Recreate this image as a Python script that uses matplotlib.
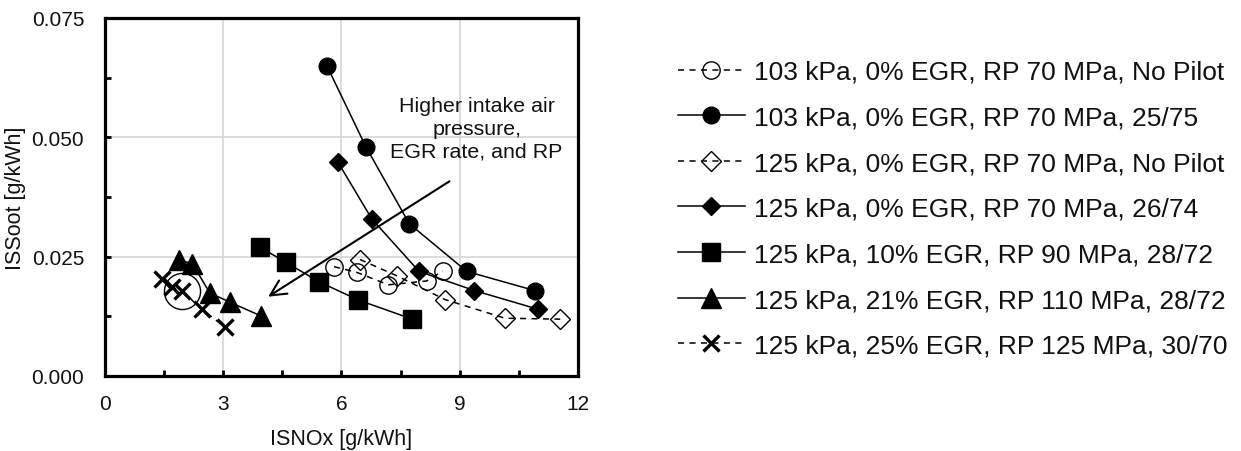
import matplotlib.pyplot as plt
from matplotlib.ticker import MultipleLocator

plt.rcParams["font.family"] = ["Liberation Sans", "DejaVu Sans"]

LABELS = [
    "103 kPa, 0% EGR, RP 70 MPa, No Pilot",
    "103 kPa, 0% EGR, RP 70 MPa, 25/75",
    "125 kPa, 0% EGR, RP 70 MPa, No Pilot",
    "125 kPa, 0% EGR, RP 70 MPa, 26/74",
    "125 kPa, 10% EGR, RP 90 MPa, 28/72",
    "125 kPa, 21% EGR, RP 110 MPa, 28/72",
    "125 kPa, 25% EGR, RP 125 MPa, 30/70",
]

NOX_103_NOPILOT = [5.81, 6.39, 7.19, 8.16, 8.57]
SOOT_103_NOPILOT = [0.0229, 0.0217, 0.0191, 0.0199, 0.0220]

NOX_103_2575 = [5.63, 6.62, 7.72, 9.18, 10.90]
SOOT_103_2575 = [0.0650, 0.0480, 0.0319, 0.0219, 0.0179]

NOX_125_NOPILOT = [6.47, 7.40, 8.63, 10.15, 11.55]
SOOT_125_NOPILOT = [0.0244, 0.0210, 0.0160, 0.0121, 0.0119]

NOX_125_2674 = [5.91, 6.77, 7.97, 9.37, 10.98]
SOOT_125_2674 = [0.0448, 0.0329, 0.0219, 0.0179, 0.0140]

NOX_EGR10 = [3.93, 4.59, 5.44, 6.43, 7.80]
SOOT_EGR10 = [0.0270, 0.0238, 0.0197, 0.0159, 0.0119]

NOX_EGR21 = [1.89, 2.22, 2.66, 3.16, 3.95]
SOOT_EGR21 = [0.0243, 0.0235, 0.0174, 0.0155, 0.0126]

NOX_EGR25 = [1.44, 1.69, 1.95, 2.45, 3.05]
SOOT_EGR25 = [0.0203, 0.0186, 0.0179, 0.0140, 0.0102]

HIGHLIGHT = (1.95, 0.0179)
ARROW_FROM = (8.80, 0.0411)
ARROW_TO = (4.08, 0.0163)
ARROW_TEXT = "Higher intake air\npressure,\nEGR rate, and RP"

DASH = (0, (4, 3.5))

STYLES = [
    dict(ls=DASH, marker="o", ms=12.5, mfc="none", mew=1.0),
    dict(ls="-", marker="o", ms=12, mfc="black", mew=1.0),
    dict(ls=DASH, marker="D", ms=10.5, mfc="none", mew=1.0),
    dict(ls="-", marker="D", ms=9.5, mfc="black", mew=1.0),
    dict(ls="-", marker="s", ms=12.5, mfc="black", mew=1.0),
    dict(ls="-", marker="^", ms=14, mfc="black", mew=1.0),
    dict(ls=DASH, marker="x", ms=12, mfc="black", mew=2.4),
]

SERIES = [
    (NOX_103_NOPILOT, SOOT_103_NOPILOT),
    (NOX_103_2575, SOOT_103_2575),
    (NOX_125_NOPILOT, SOOT_125_NOPILOT),
    (NOX_125_2674, SOOT_125_2674),
    (NOX_EGR10, SOOT_EGR10),
    (NOX_EGR21, SOOT_EGR21),
    (NOX_EGR25, SOOT_EGR25),
]

TEXT_COLOR = "#111111"

fig = plt.figure(figsize=(12.41, 4.52), dpi=100)
ax = fig.add_axes([0.0846, 0.166, 0.3811, 0.792])

handles = []
for (x, y), label, style in zip(SERIES, LABELS, STYLES):
    (line,) = ax.plot(
        x, y, color="black", lw=1.1, mec="black", label=label, zorder=3, **style
    )
    handles.append(line)

ax.plot(*HIGHLIGHT, marker="o", ms=26, mfc="none", mec="black", mew=1.0, zorder=4)

ax.annotate(
    "",
    xy=ARROW_TO,
    xytext=ARROW_FROM,
    arrowprops=dict(arrowstyle="->", lw=1.5, color="black", mutation_scale=28),
    zorder=5,
)
ax.text(
    9.43,
    0.0518,
    ARROW_TEXT,
    ha="center",
    va="center",
    fontsize=15.4,
    linespacing=1.25,
    color=TEXT_COLOR,
)

ax.set_xlim(0, 12)
ax.set_ylim(0, 0.075)
ax.xaxis.set_major_locator(MultipleLocator(3))
ax.xaxis.set_minor_locator(MultipleLocator(1.5))
ax.yaxis.set_major_locator(MultipleLocator(0.025))
ax.yaxis.set_minor_locator(MultipleLocator(0.0125))
ax.yaxis.set_major_formatter("{x:.3f}")

ax.grid(True, which="major", color="#d9d9d9", lw=1.3)
ax.set_axisbelow(True)
for spine in ax.spines.values():
    spine.set_linewidth(2.3)
ax.tick_params(
    which="both", direction="in", length=4, width=2, labelsize=15,
    labelcolor=TEXT_COLOR,
)
ax.tick_params(axis="x", which="major", pad=13)
ax.tick_params(axis="y", which="major", pad=15)

ax.set_xlabel("ISNOx [g/kWh]", fontsize=15.5, color=TEXT_COLOR)
ax.set_ylabel("ISSoot [g/kWh]", fontsize=15.5, color=TEXT_COLOR)
ax.xaxis.set_label_coords(0.5, -0.145)
ax.yaxis.set_label_coords(-0.166, 0.5)

fig.legend(
    handles=handles,
    loc="center left",
    bbox_to_anchor=(0.546, 0.536),
    frameon=False,
    fontsize=19,
    numpoints=1,
    handlelength=2.55,
    handletextpad=0.33,
    labelspacing=0.82,
    borderpad=0,
    borderaxespad=0,
    labelcolor=TEXT_COLOR,
)

fig.savefig("out.png", dpi=100)
